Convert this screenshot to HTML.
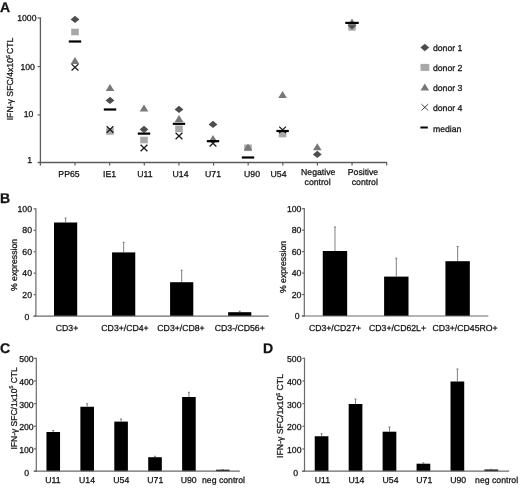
<!DOCTYPE html>
<html><head><meta charset="utf-8"><title>Figure</title>
<style>
html,body{margin:0;padding:0;background:#fff;}
svg{display:block;font-family:"Liberation Sans",sans-serif;will-change:transform;}
text{fill:#141414;stroke:#141414;stroke-width:0.27px;text-rendering:geometricPrecision;}
</style></head><body>
<svg width="520" height="488" viewBox="0 0 520 488">
<rect width="520" height="488" fill="#fff"/>
<text x="-0.1" y="11.9" text-anchor="start" font-size="14" font-weight="bold" >A</text>
<line x1="40.4" y1="17.4" x2="40.4" y2="165.6" stroke="#5c5c5c" stroke-width="1.3"/>
<line x1="37.6" y1="162.5" x2="387" y2="162.5" stroke="#5c5c5c" stroke-width="1.3"/>
<line x1="37.6" y1="18" x2="40.4" y2="18" stroke="#5c5c5c" stroke-width="1.2"/>
<line x1="37.6" y1="66.6" x2="40.4" y2="66.6" stroke="#5c5c5c" stroke-width="1.2"/>
<line x1="37.6" y1="114.9" x2="40.4" y2="114.9" stroke="#5c5c5c" stroke-width="1.2"/>
<line x1="75.03" y1="162.5" x2="75.03" y2="165.6" stroke="#5c5c5c" stroke-width="1.2"/>
<line x1="109.66" y1="162.5" x2="109.66" y2="165.6" stroke="#5c5c5c" stroke-width="1.2"/>
<line x1="144.29000000000002" y1="162.5" x2="144.29000000000002" y2="165.6" stroke="#5c5c5c" stroke-width="1.2"/>
<line x1="178.92000000000002" y1="162.5" x2="178.92000000000002" y2="165.6" stroke="#5c5c5c" stroke-width="1.2"/>
<line x1="213.55" y1="162.5" x2="213.55" y2="165.6" stroke="#5c5c5c" stroke-width="1.2"/>
<line x1="248.18000000000004" y1="162.5" x2="248.18000000000004" y2="165.6" stroke="#5c5c5c" stroke-width="1.2"/>
<line x1="282.81" y1="162.5" x2="282.81" y2="165.6" stroke="#5c5c5c" stroke-width="1.2"/>
<line x1="317.44" y1="162.5" x2="317.44" y2="165.6" stroke="#5c5c5c" stroke-width="1.2"/>
<line x1="352.07" y1="162.5" x2="352.07" y2="165.6" stroke="#5c5c5c" stroke-width="1.2"/>
<line x1="386.7" y1="162.5" x2="386.7" y2="165.6" stroke="#5c5c5c" stroke-width="1.2"/>
<text x="36.5" y="20.9" text-anchor="end" font-size="8.7" font-weight="normal" >1000</text>
<text x="34.9" y="69.7" text-anchor="end" font-size="8.7" font-weight="normal" >100</text>
<text x="33.3" y="116.6" text-anchor="end" font-size="8.7" font-weight="normal" >10</text>
<text x="32" y="163.1" text-anchor="end" font-size="8.7" font-weight="normal" >1</text>
<text transform="translate(13.2,79.0) rotate(-90)" text-anchor="middle" font-size="8.7">IFN-&#947; SFC/4x10<tspan font-size="5.2" dy="-3.2">5</tspan><tspan dy="3.2" dx="-1.4"> CTL</tspan></text>
<path d="M71.6,64.1 L78.4,70.5 M78.4,64.1 L71.6,70.5" stroke="#1a1a1a" stroke-width="1.3" fill="none"/>
<path d="M75,56.9 L79.3,63.9 L70.7,63.9 Z" fill="#787878"/>
<path d="M70.6,19.4 L75,15.7 L79.4,19.4 L75,23.099999999999998 Z" fill="#4d4d4d"/>
<rect x="71.2" y="28.7" width="7.6" height="6.6" fill="#a8a8a8"/>
<rect x="68.8" y="40.4" width="12.4" height="2.2" fill="#000"/>
<path d="M110,83.89999999999999 L114.3,90.89999999999999 L105.7,90.89999999999999 Z" fill="#787878"/>
<path d="M105.6,100.4 L110,96.7 L114.4,100.4 L110,104.10000000000001 Z" fill="#4d4d4d"/>
<rect x="106.2" y="128.2" width="7.6" height="6.6" fill="#a8a8a8"/>
<path d="M106.6,126.3 L113.4,132.7 M113.4,126.3 L106.6,132.7" stroke="#1a1a1a" stroke-width="1.3" fill="none"/>
<rect x="103.8" y="108.4" width="12.4" height="2.2" fill="#000"/>
<path d="M144,104.6 L148.3,111.6 L139.7,111.6 Z" fill="#787878"/>
<path d="M139.6,129.4 L144,125.7 L148.4,129.4 L144,133.1 Z" fill="#4d4d4d"/>
<rect x="140.2" y="136.7" width="7.6" height="6.6" fill="#a8a8a8"/>
<path d="M140.6,144.8 L147.4,151.2 M147.4,144.8 L140.6,151.2" stroke="#1a1a1a" stroke-width="1.3" fill="none"/>
<rect x="137.8" y="132.5" width="12.4" height="2.2" fill="#000"/>
<path d="M174.6,109.4 L179,105.7 L183.4,109.4 L179,113.10000000000001 Z" fill="#4d4d4d"/>
<path d="M179,115.1 L183.3,122.1 L174.7,122.1 Z" fill="#787878"/>
<rect x="175.2" y="125.50000000000001" width="7.6" height="6.6" fill="#a8a8a8"/>
<path d="M175.6,132.8 L182.4,139.2 M182.4,132.8 L175.6,139.2" stroke="#1a1a1a" stroke-width="1.3" fill="none"/>
<rect x="172.8" y="122.7" width="12.4" height="2.2" fill="#000"/>
<path d="M208.6,124.4 L213,120.7 L217.4,124.4 L213,128.1 Z" fill="#4d4d4d"/>
<path d="M213,135.1 L217.3,142.1 L208.7,142.1 Z" fill="#787878"/>
<path d="M209.6,140.10000000000002 L216.4,146.5 M216.4,140.10000000000002 L209.6,146.5" stroke="#1a1a1a" stroke-width="1.3" fill="none"/>
<rect x="206.8" y="140.1" width="12.4" height="2.2" fill="#000"/>
<rect x="244.2" y="144.5" width="7.6" height="6.6" fill="#a8a8a8"/>
<path d="M248,143.6 L252.3,150.6 L243.7,150.6 Z" fill="#787878"/>
<rect x="241.8" y="156.4" width="12.4" height="2.2" fill="#000"/>
<path d="M282.6,91.0 L286.90000000000003,98.0 L278.3,98.0 Z" fill="#787878"/>
<rect x="278.8" y="130.7" width="7.6" height="6.6" fill="#a8a8a8"/>
<path d="M279.20000000000005,126.60000000000001 L286.0,133.0 M286.0,126.60000000000001 L279.20000000000005,133.0" stroke="#1a1a1a" stroke-width="1.3" fill="none"/>
<rect x="276.40000000000003" y="129.9" width="12.4" height="2.2" fill="#000"/>
<path d="M317.3,143.2 L321.6,150.2 L313.0,150.2 Z" fill="#787878"/>
<path d="M312.90000000000003,154.4 L317.3,150.70000000000002 L321.7,154.4 L317.3,158.1 Z" fill="#4d4d4d"/>
<rect x="348.3" y="23.7" width="7.4" height="7" fill="#a8a8a8"/>
<path d="M347.6,25.599999999999998 L352,21.9 L356.4,25.599999999999998 L352,29.299999999999997 Z" fill="#4d4d4d"/>
<path d="M352,18.5 L356.3,25.5 L347.7,25.5 Z" fill="#787878"/>
<rect x="345.3" y="21.799999999999997" width="13.4" height="2.2" fill="#000"/>
<text x="69" y="177" text-anchor="middle" font-size="8.7" font-weight="normal" >PP65</text>
<text x="109.5" y="177" text-anchor="middle" font-size="8.7" font-weight="normal" >IE1</text>
<text x="145" y="177" text-anchor="middle" font-size="8.7" font-weight="normal" >U11</text>
<text x="180.5" y="177" text-anchor="middle" font-size="8.7" font-weight="normal" >U14</text>
<text x="213" y="177" text-anchor="middle" font-size="8.7" font-weight="normal" >U71</text>
<text x="252" y="177" text-anchor="middle" font-size="8.7" font-weight="normal" >U90</text>
<text x="278.5" y="177" text-anchor="middle" font-size="8.7" font-weight="normal" >U54</text>
<text x="318.2" y="175.4" text-anchor="middle" font-size="8.7" font-weight="normal" >Negative</text>
<text x="363" y="175.4" text-anchor="middle" font-size="8.7" font-weight="normal" >Positive</text>
<text x="317.6" y="185.1" text-anchor="middle" font-size="8.7" font-weight="normal" >control</text>
<text x="364.8" y="185.1" text-anchor="middle" font-size="8.7" font-weight="normal" >control</text>
<path d="M420.40000000000003,47.5 L424.8,43.8 L429.2,47.5 L424.8,51.2 Z" fill="#4d4d4d"/>
<text x="432.9" y="51.2" text-anchor="start" font-size="8.7" font-weight="normal" >donor 1</text>
<rect x="420.5" y="63.900000000000006" width="8.8" height="7" fill="#a8a8a8"/>
<text x="432.9" y="71.3" text-anchor="start" font-size="8.7" font-weight="normal" >donor 2</text>
<path d="M424.8,83.6 L429.1,90.6 L420.5,90.6 Z" fill="#787878"/>
<text x="432.9" y="91.4" text-anchor="start" font-size="8.7" font-weight="normal" >donor 3</text>
<path d="M421.40000000000003,104.1 L428.2,110.5 M428.2,104.1 L421.40000000000003,110.5" stroke="#1a1a1a" stroke-width="0.8" fill="none"/>
<text x="432.9" y="111.4" text-anchor="start" font-size="8.7" font-weight="normal" >donor 4</text>
<rect x="420.4" y="126.5" width="7.4" height="2" fill="#000"/>
<text x="432.9" y="131.5" text-anchor="start" font-size="8.7" font-weight="normal" >median</text>
<text x="0" y="203" text-anchor="start" font-size="14" font-weight="bold" >B</text>
<line x1="35.9" y1="208.3" x2="35.9" y2="316.5" stroke="#6a6a6a" stroke-width="1.2"/>
<line x1="33.6" y1="208.85" x2="35.9" y2="208.85" stroke="#6a6a6a" stroke-width="1.2"/>
<text x="32" y="211.75" text-anchor="end" font-size="8.7" font-weight="normal" >100</text>
<line x1="33.6" y1="230.3" x2="35.9" y2="230.3" stroke="#6a6a6a" stroke-width="1.2"/>
<text x="32" y="233.20000000000002" text-anchor="end" font-size="8.7" font-weight="normal" >80</text>
<line x1="33.6" y1="251.75" x2="35.9" y2="251.75" stroke="#6a6a6a" stroke-width="1.2"/>
<text x="32" y="254.65" text-anchor="end" font-size="8.7" font-weight="normal" >60</text>
<line x1="33.6" y1="273.2" x2="35.9" y2="273.2" stroke="#6a6a6a" stroke-width="1.2"/>
<text x="32" y="276.09999999999997" text-anchor="end" font-size="8.7" font-weight="normal" >40</text>
<line x1="33.6" y1="294.65" x2="35.9" y2="294.65" stroke="#6a6a6a" stroke-width="1.2"/>
<text x="32" y="297.54999999999995" text-anchor="end" font-size="8.7" font-weight="normal" >20</text>
<line x1="33.6" y1="316.1" x2="35.9" y2="316.1" stroke="#6a6a6a" stroke-width="1.2"/>
<text x="29.3" y="319.6" text-anchor="end" font-size="8.7" font-weight="normal" >0</text>
<rect x="54.02" y="222.5" width="23.2" height="93.50" fill="#000"/>
<line x1="65.62" y1="218" x2="65.62" y2="222.5" stroke="#606060" stroke-width="0.8"/>
<line x1="64.62" y1="218" x2="66.62" y2="218" stroke="#606060" stroke-width="0.8"/>
<rect x="112.06" y="252.4" width="23.2" height="63.60" fill="#000"/>
<line x1="123.66" y1="242.3" x2="123.66" y2="252.4" stroke="#606060" stroke-width="0.8"/>
<line x1="122.66" y1="242.3" x2="124.66" y2="242.3" stroke="#606060" stroke-width="0.8"/>
<rect x="170.09" y="282.2" width="23.2" height="33.80" fill="#000"/>
<line x1="181.69" y1="270.2" x2="181.69" y2="282.2" stroke="#606060" stroke-width="0.8"/>
<line x1="180.69" y1="270.2" x2="182.69" y2="270.2" stroke="#606060" stroke-width="0.8"/>
<rect x="228.13" y="312.2" width="23.2" height="3.80" fill="#000"/>
<line x1="239.73" y1="311.2" x2="239.73" y2="312.2" stroke="#606060" stroke-width="0.8"/>
<line x1="238.73" y1="311.2" x2="240.73" y2="311.2" stroke="#606060" stroke-width="0.8"/>
<line x1="33.6" y1="316.1" x2="268.75" y2="316.1" stroke="#6a6a6a" stroke-width="1.2"/>
<text transform="translate(17.3,265) rotate(-90)" text-anchor="middle" font-size="8.7">% expression</text>
<text x="67" y="330.6" text-anchor="middle" font-size="8.7" font-weight="normal" >CD3+</text>
<text x="125" y="330.6" text-anchor="middle" font-size="8.7" font-weight="normal" >CD3+/CD4+</text>
<text x="181" y="330.6" text-anchor="middle" font-size="8.7" font-weight="normal" >CD3+/CD8+</text>
<text x="239.8" y="330.6" text-anchor="middle" font-size="8.7" font-weight="normal" >CD3-/CD56+</text>
<line x1="304.3" y1="208" x2="304.3" y2="316.5" stroke="#6a6a6a" stroke-width="1.2"/>
<line x1="301.8" y1="208.7" x2="304.3" y2="208.7" stroke="#6a6a6a" stroke-width="1.2"/>
<text x="301.4" y="211.89999999999998" text-anchor="end" font-size="8.7" font-weight="normal" >100</text>
<line x1="301.8" y1="230.15" x2="304.3" y2="230.15" stroke="#6a6a6a" stroke-width="1.2"/>
<text x="301.4" y="233.35" text-anchor="end" font-size="8.7" font-weight="normal" >80</text>
<line x1="301.8" y1="251.6" x2="304.3" y2="251.6" stroke="#6a6a6a" stroke-width="1.2"/>
<text x="301.4" y="254.79999999999998" text-anchor="end" font-size="8.7" font-weight="normal" >60</text>
<line x1="301.8" y1="273.1" x2="304.3" y2="273.1" stroke="#6a6a6a" stroke-width="1.2"/>
<text x="301.4" y="276.3" text-anchor="end" font-size="8.7" font-weight="normal" >40</text>
<line x1="301.8" y1="294.55" x2="304.3" y2="294.55" stroke="#6a6a6a" stroke-width="1.2"/>
<text x="301.4" y="297.75" text-anchor="end" font-size="8.7" font-weight="normal" >20</text>
<line x1="301.8" y1="316" x2="304.3" y2="316" stroke="#6a6a6a" stroke-width="1.2"/>
<text x="299.5" y="319.4" text-anchor="end" font-size="8.7" font-weight="normal" >0</text>
<rect x="322.77" y="251" width="24.4" height="65.00" fill="#000"/>
<line x1="334.97" y1="227" x2="334.97" y2="251" stroke="#606060" stroke-width="0.8"/>
<line x1="333.97" y1="227" x2="335.97" y2="227" stroke="#606060" stroke-width="0.8"/>
<rect x="384.10" y="276.6" width="24.4" height="39.40" fill="#000"/>
<line x1="396.30" y1="258.2" x2="396.30" y2="276.6" stroke="#606060" stroke-width="0.8"/>
<line x1="395.30" y1="258.2" x2="397.30" y2="258.2" stroke="#606060" stroke-width="0.8"/>
<rect x="445.43" y="261.2" width="24.4" height="54.80" fill="#000"/>
<line x1="457.63" y1="246.5" x2="457.63" y2="261.2" stroke="#606060" stroke-width="0.8"/>
<line x1="456.63" y1="246.5" x2="458.63" y2="246.5" stroke="#606060" stroke-width="0.8"/>
<line x1="301.8" y1="316" x2="488.3" y2="316" stroke="#6a6a6a" stroke-width="1.2"/>
<text transform="translate(285.8,267) rotate(-90)" text-anchor="middle" font-size="8.7">% expression</text>
<text x="335" y="330.6" text-anchor="middle" font-size="8.7" font-weight="normal" >CD3+/CD27+</text>
<text x="397.5" y="330.6" text-anchor="middle" font-size="8.7" font-weight="normal" >CD3+/CD62L+</text>
<text x="465" y="330.6" text-anchor="middle" font-size="8.7" font-weight="normal" >CD3+/CD45RO+</text>
<text x="-0.1" y="352.7" text-anchor="start" font-size="14" font-weight="bold" >C</text>
<line x1="36.3" y1="357.7" x2="36.3" y2="471.9" stroke="#6a6a6a" stroke-width="1.2"/>
<line x1="33.9" y1="358.3" x2="36.3" y2="358.3" stroke="#6a6a6a" stroke-width="1.2"/>
<text x="33.7" y="362.3" text-anchor="end" font-size="8.7" font-weight="normal" >500</text>
<line x1="33.9" y1="380.95" x2="36.3" y2="380.95" stroke="#6a6a6a" stroke-width="1.2"/>
<text x="33.7" y="384.95" text-anchor="end" font-size="8.7" font-weight="normal" >400</text>
<line x1="33.9" y1="403.6" x2="36.3" y2="403.6" stroke="#6a6a6a" stroke-width="1.2"/>
<text x="33.7" y="407.6" text-anchor="end" font-size="8.7" font-weight="normal" >300</text>
<line x1="33.9" y1="426.25" x2="36.3" y2="426.25" stroke="#6a6a6a" stroke-width="1.2"/>
<text x="33.7" y="430.25" text-anchor="end" font-size="8.7" font-weight="normal" >200</text>
<line x1="33.9" y1="448.9" x2="36.3" y2="448.9" stroke="#6a6a6a" stroke-width="1.2"/>
<text x="33.7" y="452.9" text-anchor="end" font-size="8.7" font-weight="normal" >100</text>
<line x1="33.9" y1="471.3" x2="36.3" y2="471.3" stroke="#6a6a6a" stroke-width="1.2"/>
<text x="29.2" y="475.8" text-anchor="end" font-size="8.7" font-weight="normal" >0</text>
<rect x="46.46" y="432" width="13.6" height="39.20" fill="#000"/>
<line x1="53.26" y1="430.5" x2="53.26" y2="432" stroke="#606060" stroke-width="0.8"/>
<line x1="52.26" y1="430.5" x2="54.26" y2="430.5" stroke="#606060" stroke-width="0.8"/>
<rect x="80.38" y="406.75" width="13.6" height="64.45" fill="#000"/>
<line x1="87.17" y1="403.75" x2="87.17" y2="406.75" stroke="#606060" stroke-width="0.8"/>
<line x1="86.17" y1="403.75" x2="88.17" y2="403.75" stroke="#606060" stroke-width="0.8"/>
<rect x="114.29" y="421.6" width="13.6" height="49.60" fill="#000"/>
<line x1="121.09" y1="419" x2="121.09" y2="421.6" stroke="#606060" stroke-width="0.8"/>
<line x1="120.09" y1="419" x2="122.09" y2="419" stroke="#606060" stroke-width="0.8"/>
<rect x="148.21" y="457.2" width="13.6" height="14.00" fill="#000"/>
<line x1="155.01" y1="456.3" x2="155.01" y2="457.2" stroke="#606060" stroke-width="0.8"/>
<line x1="154.01" y1="456.3" x2="156.01" y2="456.3" stroke="#606060" stroke-width="0.8"/>
<rect x="182.12" y="397" width="13.6" height="74.20" fill="#000"/>
<line x1="188.93" y1="392.3" x2="188.93" y2="397" stroke="#606060" stroke-width="0.8"/>
<line x1="187.93" y1="392.3" x2="189.93" y2="392.3" stroke="#606060" stroke-width="0.8"/>
<rect x="216.04" y="469.7" width="13.6" height="1.50" fill="#000"/>
<line x1="222.84" y1="469.5" x2="222.84" y2="469.7" stroke="#606060" stroke-width="0.8"/>
<line x1="221.84" y1="469.5" x2="223.84" y2="469.5" stroke="#606060" stroke-width="0.8"/>
<line x1="33.8" y1="471.2" x2="239.8" y2="471.2" stroke="#6a6a6a" stroke-width="1.2"/>
<text transform="translate(16.5,408.4) rotate(-90)" text-anchor="middle" font-size="8.5">IFN-&#947; SFC/1x10<tspan font-size="5.2" dy="-3.4">5</tspan><tspan dy="3.4"> CTL</tspan></text>
<text x="53" y="483.1" text-anchor="middle" font-size="8.7" font-weight="normal" >U11</text>
<text x="87" y="483.1" text-anchor="middle" font-size="8.7" font-weight="normal" >U14</text>
<text x="121.3" y="483.1" text-anchor="middle" font-size="8.7" font-weight="normal" >U54</text>
<text x="155.3" y="483.1" text-anchor="middle" font-size="8.7" font-weight="normal" >U71</text>
<text x="188.6" y="483.1" text-anchor="middle" font-size="8.7" font-weight="normal" >U90</text>
<text x="223.5" y="483.1" text-anchor="middle" font-size="8.7" font-weight="normal" >neg control</text>
<text x="263" y="352.7" text-anchor="start" font-size="14" font-weight="bold" >D</text>
<line x1="304.5" y1="357.7" x2="304.5" y2="471.9" stroke="#6a6a6a" stroke-width="1.2"/>
<line x1="302.4" y1="358.3" x2="304.5" y2="358.3" stroke="#6a6a6a" stroke-width="1.2"/>
<text x="301.5" y="362.3" text-anchor="end" font-size="8.7" font-weight="normal" >500</text>
<line x1="302.4" y1="380.95" x2="304.5" y2="380.95" stroke="#6a6a6a" stroke-width="1.2"/>
<text x="301.5" y="384.95" text-anchor="end" font-size="8.7" font-weight="normal" >400</text>
<line x1="302.4" y1="403.6" x2="304.5" y2="403.6" stroke="#6a6a6a" stroke-width="1.2"/>
<text x="301.5" y="407.6" text-anchor="end" font-size="8.7" font-weight="normal" >300</text>
<line x1="302.4" y1="426.25" x2="304.5" y2="426.25" stroke="#6a6a6a" stroke-width="1.2"/>
<text x="301.5" y="430.25" text-anchor="end" font-size="8.7" font-weight="normal" >200</text>
<line x1="302.4" y1="448.9" x2="304.5" y2="448.9" stroke="#6a6a6a" stroke-width="1.2"/>
<text x="301.5" y="452.9" text-anchor="end" font-size="8.7" font-weight="normal" >100</text>
<line x1="302.4" y1="471.3" x2="304.5" y2="471.3" stroke="#6a6a6a" stroke-width="1.2"/>
<text x="298.1" y="475.7" text-anchor="end" font-size="8.7" font-weight="normal" >0</text>
<rect x="314.73" y="436.25" width="13.7" height="34.95" fill="#000"/>
<line x1="321.58" y1="433.75" x2="321.58" y2="436.25" stroke="#606060" stroke-width="0.8"/>
<line x1="320.58" y1="433.75" x2="322.58" y2="433.75" stroke="#606060" stroke-width="0.8"/>
<rect x="348.68" y="404" width="13.7" height="67.20" fill="#000"/>
<line x1="355.53" y1="399" x2="355.53" y2="404" stroke="#606060" stroke-width="0.8"/>
<line x1="354.53" y1="399" x2="356.53" y2="399" stroke="#606060" stroke-width="0.8"/>
<rect x="382.62" y="431.7" width="13.7" height="39.50" fill="#000"/>
<line x1="389.48" y1="427" x2="389.48" y2="431.7" stroke="#606060" stroke-width="0.8"/>
<line x1="388.48" y1="427" x2="390.48" y2="427" stroke="#606060" stroke-width="0.8"/>
<rect x="416.57" y="463.7" width="13.7" height="7.50" fill="#000"/>
<line x1="423.43" y1="462.8" x2="423.43" y2="463.7" stroke="#606060" stroke-width="0.8"/>
<line x1="422.43" y1="462.8" x2="424.43" y2="462.8" stroke="#606060" stroke-width="0.8"/>
<rect x="450.52" y="381.5" width="13.7" height="89.70" fill="#000"/>
<line x1="457.38" y1="369" x2="457.38" y2="381.5" stroke="#606060" stroke-width="0.8"/>
<line x1="456.38" y1="369" x2="458.38" y2="369" stroke="#606060" stroke-width="0.8"/>
<rect x="484.47" y="469.5" width="13.7" height="1.70" fill="#000"/>
<line x1="491.32" y1="469.3" x2="491.32" y2="469.5" stroke="#606060" stroke-width="0.8"/>
<line x1="490.32" y1="469.3" x2="492.32" y2="469.3" stroke="#606060" stroke-width="0.8"/>
<line x1="302" y1="471.2" x2="509.2" y2="471.2" stroke="#6a6a6a" stroke-width="1.2"/>
<text transform="translate(283.4,416) rotate(-90)" text-anchor="middle" font-size="8.7">IFN-&#947; SFC/1x10<tspan font-size="5.2" dy="-3.4">5</tspan><tspan dy="3.4"> CTL</tspan></text>
<text x="322.4" y="482.7" text-anchor="middle" font-size="8.7" font-weight="normal" >U11</text>
<text x="356.4" y="482.7" text-anchor="middle" font-size="8.7" font-weight="normal" >U14</text>
<text x="390.5" y="482.7" text-anchor="middle" font-size="8.7" font-weight="normal" >U54</text>
<text x="424.3" y="482.7" text-anchor="middle" font-size="8.7" font-weight="normal" >U71</text>
<text x="458.2" y="482.7" text-anchor="middle" font-size="8.7" font-weight="normal" >U90</text>
<text x="496.6" y="482.7" text-anchor="middle" font-size="8.7" font-weight="normal" >neg control</text>
</svg>
</body></html>
